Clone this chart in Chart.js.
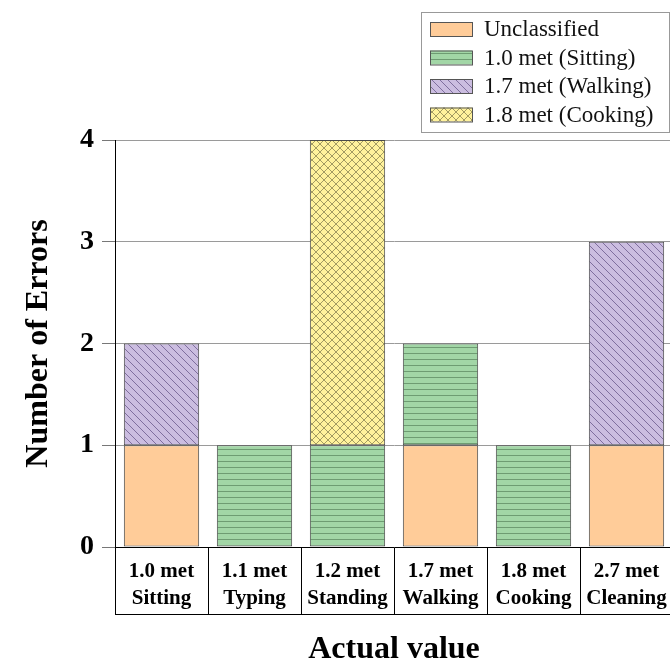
<!DOCTYPE html>
<html>
<head>
<meta charset="utf-8">
<script src="https://cdn.jsdelivr.net/npm/chart.js@4/dist/chart.umd.min.js"></script>
<style>
  html, body { margin: 0; padding: 0; background: #fff; overflow: hidden; }
  canvas { display: block; }
</style>
</head>
<body>
<canvas id="errChart" width="676" height="662"></canvas>
<script>
// category labels (two lines each)
const categories = [
  ["1.0 met", "Sitting"],
  ["1.1 met", "Typing"],
  ["1.2 met", "Standing"],
  ["1.7 met", "Walking"],
  ["1.8 met", "Cooking"],
  ["2.7 met", "Cleaning"]
];
const seriesNames = ["Unclassified", "1.0 met (Sitting)", "1.7 met (Walking)", "1.8 met (Cooking)"];

// error counts per predicted class (null = no segment)
const unclassified = [1, null, null, 1, null, 1];
const sitting      = [null, 1, 1, 1, 1, null];
const walking      = [1, null, null, null, null, 2];
const cooking      = [null, null, 3, null, null, null];

const yTicks = [0, 1, 2, 3, 4];

const SERIF = "'Liberation Serif', 'Times New Roman', serif";

// small tiles used as fill patterns
function makePattern(bg, fg, size, draw) {
  const c = document.createElement('canvas');
  c.width = size;
  c.height = size;
  const g = c.getContext('2d');
  g.fillStyle = bg;
  g.fillRect(0, 0, size, size);
  g.strokeStyle = fg;
  g.lineWidth = 1;
  draw(g, size);
  return g.createPattern(c, 'repeat');
}

const greenLines = makePattern('#a2d6a6', '#6e9c72', 6, (g, s) => {
  g.beginPath();
  g.moveTo(0, s - 0.5);
  g.lineTo(s, s - 0.5);
  g.stroke();
});
const purpleDiag = makePattern('#cbbde0', '#7f6e9e', 8, (g, s) => {
  g.beginPath();
  for (let k = -1; k <= 1; k++) {
    g.moveTo(k * s, 0);
    g.lineTo(k * s + s, s);
  }
  g.stroke();
});
const yellowCross = makePattern('#fff29c', '#a39b62', 8, (g, s) => {
  g.beginPath();
  for (let k = -1; k <= 1; k++) {
    g.moveTo(k * s, 0);
    g.lineTo(k * s + s, s);
    g.moveTo(k * s + s, 0);
    g.lineTo(k * s, s);
  }
  g.stroke();
});

const fills = ['#ffcc99', greenLines, purpleDiag, yellowCross];
const seriesData = [unclassified, sitting, walking, cooking];

// bottom line of the label table under the x axis
const tableLine = {
  id: 'tableLine',
  afterDraw(chart) {
    const ctx = chart.ctx;
    const area = chart.chartArea;
    ctx.save();
    ctx.strokeStyle = '#000';
    ctx.lineWidth = 1;
    ctx.beginPath();
    ctx.moveTo(area.left, area.bottom + 67.5);
    ctx.lineTo(area.right, area.bottom + 67.5);
    ctx.stroke();
    ctx.restore();
  }
};

// boxed legend in the upper right, one entry per row
const boxLegend = {
  id: 'boxLegend',
  afterDraw(chart) {
    const ctx = chart.ctx;
    const x0 = 421, y0 = 12, w = 248, h = 120;
    ctx.save();
    ctx.fillStyle = '#fff';
    ctx.fillRect(x0, y0, w, h);
    ctx.strokeStyle = '#999';
    ctx.lineWidth = 1;
    ctx.strokeRect(x0 + 0.5, y0 + 0.5, w, h);
    ctx.font = '23px ' + SERIF;
    ctx.textBaseline = 'middle';
    chart.data.datasets.forEach((ds, i) => {
      const cy = 29 + i * 28.5;
      ctx.fillStyle = ds.backgroundColor;
      ctx.fillRect(430, cy - 7, 42, 14);
      ctx.strokeStyle = '#555';
      ctx.strokeRect(430.5, cy - 6.5, 42, 14);
      ctx.fillStyle = '#111';
      ctx.fillText(ds.label, 484, cy + 1);
    });
    ctx.restore();
  }
};

const ctx = document.getElementById('errChart').getContext('2d');
const chart = new Chart(ctx, {
  type: 'bar',
  data: {
    labels: categories,
    datasets: seriesNames.map((name, i) => ({
      label:           name,
      data:            seriesData[i],
      backgroundColor: fills[i],
      borderColor:     '#4a4a4a',
      borderWidth:     1,
      borderSkipped:   false,
      barPercentage:   0.81,
      categoryPercentage: 1
    }))
  },
  options: {
    responsive: false,
    animation: false,
    devicePixelRatio: 1,
    layout: { padding: { top: 140, right: 3, left: 0, bottom: 0 } },
    plugins: {
      legend:  { display: false },
      tooltip: { enabled: false }
    },
    scales: {
      x: {
        stacked: true,
        offset: true,
        grid: {
          offset: true,
          drawOnChartArea: false,
          drawTicks: true,
          tickLength: 67,
          color: '#000',
          lineWidth: 1
        },
        border: { color: '#000', width: 1 },
        ticks: {
          color: '#000',
          padding: -56,
          maxRotation: 0,
          autoSkip: false,
          font: { family: SERIF, size: 21, weight: 'bold', lineHeight: 1.3 }
        },
        title: {
          display: true,
          text: 'Actual value',
          color: '#000',
          padding: { top: 0, bottom: -4 },
          font: { family: SERIF, size: 32, weight: 'bold', lineHeight: 1 }
        },
        afterFit: (scale) => { scale.height = 115; }
      },
      y: {
        stacked: true,
        min: 0,
        max: 4,
        afterBuildTicks: (scale) => { scale.ticks = yTicks.map(v => ({ value: v })); },
        grid: {
          color: '#9a9a9a',
          lineWidth: 1,
          tickLength: 13,
          tickColor: '#777'
        },
        border: { color: '#000', width: 1 },
        ticks: {
          color: '#000',
          padding: 8,
          font: { family: SERIF, size: 28, weight: 'bold' }
        },
        title: {
          display: true,
          text: 'Number of Errors',
          color: '#000',
          padding: { top: 23, bottom: 0 },
          font: { family: SERIF, size: 32, weight: 'bold', lineHeight: 1 }
        },
        afterFit: (scale) => { scale.width = 115; }
      }
    }
  },
  plugins: [tableLine, boxLegend]
});
</script>
</body>
</html>
